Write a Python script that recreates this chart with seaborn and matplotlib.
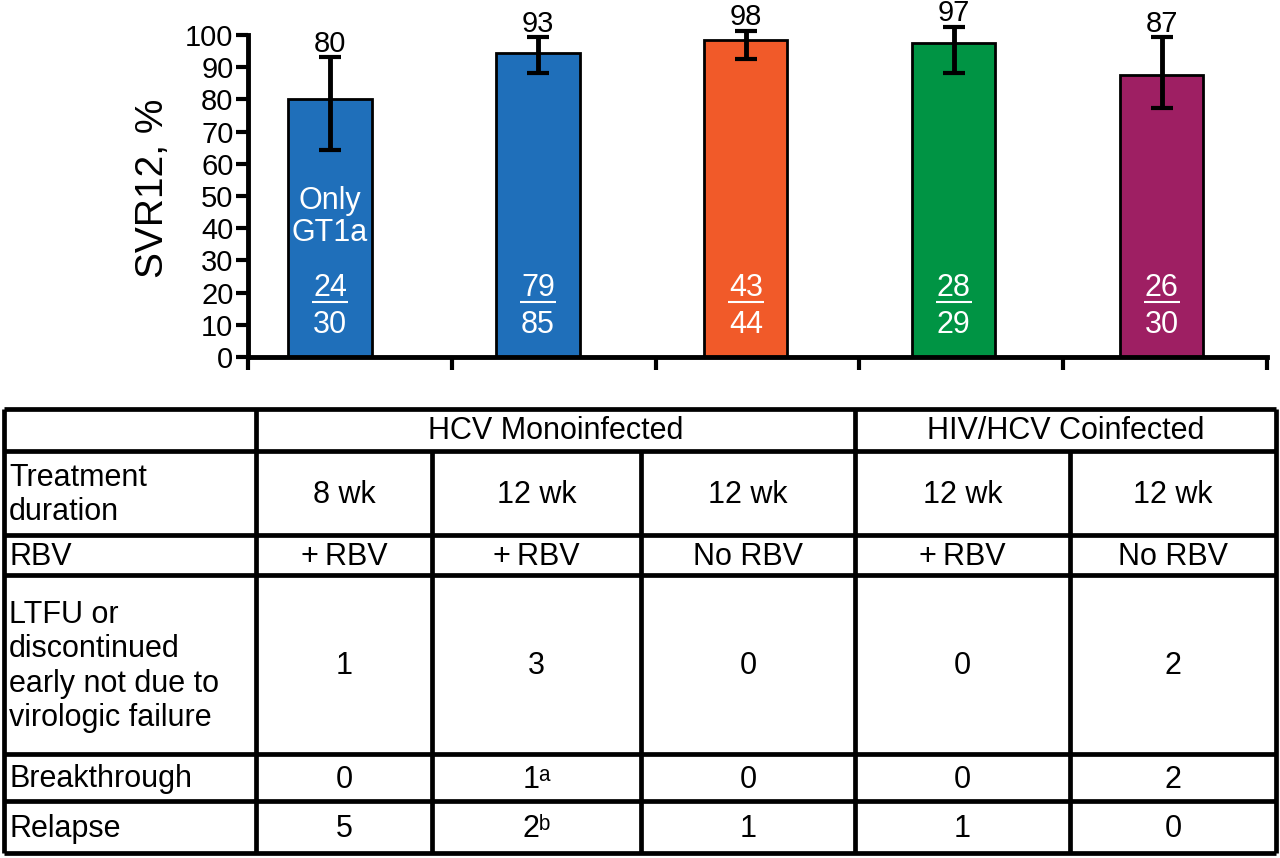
import numpy as np
import pandas as pd
import matplotlib
matplotlib.use("Agg")
import matplotlib.pyplot as plt
import seaborn as sns

# bar data
groups = ["8 wk +RBV", "12 wk +RBV", "12 wk No RBV", "HIV 12 wk +RBV", "HIV 12 wk No RBV"]
svr = [80, 94.5, 98.5, 97.5, 87.5]
svr_labels = ["80", "93", "98", "97", "87"]
ci_low = [64.3, 88.3, 92.5, 88.3, 77.4]
ci_high = [93.1, 99.3, 101.3, 102.6, 99.3]
n_svr = ["24", "79", "43", "28", "26"]
n_total = ["30", "85", "44", "29", "30"]
bar_colors = ["#1F6FBA", "#1F6FBA", "#F15A29", "#009444", "#9E1F63"]

# table data
header_groups = ["HCV Monoinfected", "HIV/HCV Coinfected"]
row_labels = ["Treatment\nduration", "RBV",
              "LTFU or\ndiscontinued\nearly not due to\nvirologic failure",
              "Breakthrough", "Relapse"]
duration = ["8 wk", "12 wk", "12 wk", "12 wk", "12 wk"]
rbv = ["+\u2009RBV", "+\u2009RBV", "No RBV", "+\u2009RBV", "No RBV"]
ltfu = ["1", "3", "0", "0", "2"]
breakthrough = ["0", "1ᵃ", "0", "0", "2"]
relapse = ["5", "2ᵇ", "1", "1", "0"]

sns.set_style("ticks")
plt.rcParams["font.family"] = ["Liberation Sans", "DejaVu Sans"]
plt.rcParams["text.color"] = "black"
plt.rcParams["axes.edgecolor"] = "black"
plt.rcParams["axes.labelcolor"] = "black"
plt.rcParams["xtick.color"] = "black"
plt.rcParams["ytick.color"] = "black"

df = pd.DataFrame({"group": groups, "svr": svr})

fig = plt.figure(figsize=(12.8, 8.58), dpi=100)
ax = fig.add_axes([0.19375, 0.58392, 0.796, 0.39408])

sns.barplot(data=df, x="group", y="svr", hue="group", palette=bar_colors,
            saturation=1, width=0.4, edgecolor="black", linewidth=2,
            legend=False, ax=ax)

x = np.arange(len(groups))
yerr = [np.array(svr) - np.array(ci_low), np.array(ci_high) - np.array(svr)]
ax.errorbar(x, svr, yerr=yerr, fmt="none", ecolor="black", elinewidth=3.5,
            capsize=8, capthick=3, clip_on=False, zorder=5)

for i in range(len(groups)):
    ax.annotate(svr_labels[i], (x[i], ci_high[i]), xytext=(0, 4),
                textcoords="offset points", ha="center", va="baseline",
                fontsize=21, annotation_clip=False)
    ax.text(x[i], 21.4, n_svr[i], color="white", ha="center", va="center", fontsize=22)
    ax.text(x[i], 9.9, n_total[i], color="white", ha="center", va="center", fontsize=22)
    ax.hlines(17.0, x[i] - 0.088, x[i] + 0.088, color="white", linewidth=1.5)
ax.text(x[0], 43.4, "Only\nGT1a", color="white", ha="center", va="center",
        fontsize=22, linespacing=1.1)

xmin, xmax = -0.394, 4.505
ax.set_xlim(xmin, xmax)
ax.set_ylim(0, 105)
ax.set_xticks(np.linspace(xmin, xmax, 6))
ax.set_xticklabels([])
ax.set_yticks(range(0, 101, 10))
ax.set_xlabel("")
ax.set_ylabel("SVR12, %", fontsize=28, labelpad=10)
ax.tick_params(axis="y", labelsize=21, length=8.5, width=3, pad=2)
ax.tick_params(axis="x", length=9, width=3)
sns.despine(ax=ax)
ax.spines["left"].set_bounds(0, 100)
ax.spines["left"].set_linewidth(3.5)
ax.spines["bottom"].set_linewidth(3.5)
ax.patch.set_alpha(0)

# table drawn in pixel coordinates
tb = fig.add_axes([0, 0, 1, 1])
tb.set_xlim(0, 1280)
tb.set_ylim(858, 0)
tb.axis("off")
tb.patch.set_alpha(0)

col_edges = [4, 256, 432, 641, 855, 1070, 1276]
row_edges = [409, 451, 535, 575, 754, 801, 853]
lw = 3.4

for y in row_edges:
    tb.hlines(y, col_edges[0], col_edges[-1], color="black", linewidth=lw)
for xe in col_edges:
    if xe in (col_edges[0], col_edges[1], col_edges[4], col_edges[-1]):
        tb.vlines(xe, row_edges[0], row_edges[-1], color="black", linewidth=lw)
    else:
        tb.vlines(xe, row_edges[1], row_edges[-1], color="black", linewidth=lw)

fs = 22
head_y = (row_edges[0] + row_edges[1]) / 2 + 1
tb.text((col_edges[1] + col_edges[4]) / 2, head_y, header_groups[0],
        ha="center", va="center", fontsize=fs)
tb.text((col_edges[4] + col_edges[-1]) / 2, head_y, header_groups[1],
        ha="center", va="center", fontsize=fs)

rows = [duration, rbv, ltfu, breakthrough, relapse]
for r, (label, vals) in enumerate(zip(row_labels, rows)):
    yc = (row_edges[r + 1] + row_edges[r + 2]) / 2 + 2
    tb.text(col_edges[0] + 5, yc, label, ha="left", va="center",
            fontsize=fs, linespacing=1.18)
    for c, v in enumerate(vals):
        xc = (col_edges[c + 1] + col_edges[c + 2]) / 2
        tb.text(xc, yc, v, ha="center", va="center", fontsize=fs)

fig.savefig("out.png", dpi=100)
